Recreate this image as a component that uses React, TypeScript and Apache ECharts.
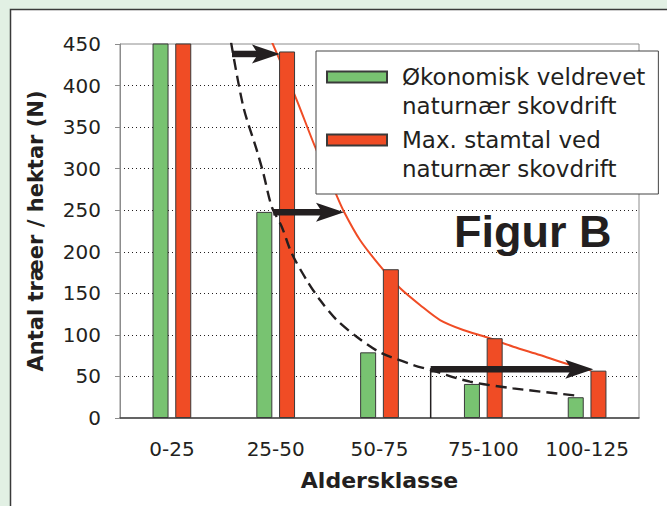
import React, { useEffect, useRef } from "react";
import * as echarts from "echarts";

const categories = ["0-25", "25-50", "50-75", "75-100", "100-125"];
const greenValues = [700, 248, 79, 41, 25];
const redValues = [750, 441, 179, 96, 57];
const seriesNames = [
  "Økonomisk veldrevet\nnaturnær skovdrift",
  "Max. stamtal ved\nnaturnær skovdrift",
];
const yMin = 0;
const yMax = 450;
const yInterval = 50;

// curves in category units (category i centre = i + 0.5)
const dashedCurve = [
  [1.07, 452], [1.188, 374.6], [1.317, 322.5], [1.381, 294.4], [1.462, 254.2],
  [1.558, 230.2], [1.654, 198.2], [1.798, 166], [1.927, 142], [2.088, 117.9],
  [2.28, 97.8], [2.505, 79], [2.826, 63.8], [3.015, 56.9], [3.372, 43.7],
  [3.786, 35.7], [4.432, 26.5],
];
const redCurve = [
  [1.465, 452], [1.696, 384.7], [1.879, 326.4], [2.071, 272.3], [2.158, 248.2],
  [2.312, 214.2], [2.537, 178.1], [2.697, 156.4], [2.89, 136], [3.083, 117.9],
  [3.307, 105.9], [3.533, 97.1], [3.789, 85.8], [4.046, 75.8], [4.271, 66.5],
  [4.54, 57],
];
// [xStart, xEnd, y]
const arrows = [
  [1.079, 1.541, 438],
  [1.477, 2.158, 247.5],
  [2.993, 4.56, 58.6],
];
const bracket = [[2.993, 0], [2.993, 60]];

const TEXT = "#231f20";
const FONT = "DejaVu Sans";
const GREEN = "#78c371";
const RED = "#f04c25";

export default function App() {
  const ref = useRef<HTMLDivElement>(null);
  useEffect(() => {
    if (!ref.current) return;
    const chart = echarts.init(ref.current, null, { renderer: "svg" });
    const iconPath =
      "path://M0,0L0.001,0M0,9L60,9L60,20L0,20ZM0,58L0.001,58";
    const option: any = {
      animation: false,
      backgroundColor: "#e2f0e4",
      graphic: [
        {
          type: "rect",
          z: -1,
          shape: { x: 10.5, y: 9.5, width: 720, height: 560 },
          style: { fill: "#ffffff", stroke: "#3a3a3a", lineWidth: 1.5 },
        },
        {
          type: "text",
          z: 10,
          x: 454,
          y: 231,
          style: {
            text: "Figur B",
            fill: TEXT,
            font: 'bold 45px "Liberation Sans"',
            verticalAlign: "middle",
            align: "left",
          },
        },
      ],
      grid: {
        left: 120,
        right: 28,
        top: 44,
        bottom: 88,
        show: true,
        borderColor: "#8c8c8c",
        borderWidth: 1,
        backgroundColor: "transparent",
      },
      legend: {
        orient: "vertical",
        left: 316,
        top: 51,
        padding: [10.5, 13, 9.5, 10],
        itemGap: 3,
        itemWidth: 60,
        itemHeight: 58,
        backgroundColor: "#ffffff",
        borderColor: "#444444",
        borderWidth: 1,
        borderRadius: 0,
        data: [
          { name: seriesNames[0], icon: iconPath },
          { name: seriesNames[1], icon: iconPath },
        ],
        textStyle: {
          fontFamily: FONT,
          fontSize: 23,
          lineHeight: 29,
          color: TEXT,
          padding: [0, 0, 0, 10],
        },
      },
      xAxis: [
        {
          type: "category",
          data: categories,
          boundaryGap: true,
          axisLine: { lineStyle: { color: "#444444", width: 1.5 } },
          axisTick: { alignWithLabel: true, length: 5, lineStyle: { color: "#444444" } },
          axisLabel: { interval: 0, fontFamily: FONT, fontSize: 20, color: TEXT, margin: 21 },
          splitLine: { show: false },
          name: "Aldersklasse",
          nameLocation: "middle",
          nameGap: 51,
          nameTextStyle: { fontFamily: FONT, fontSize: 22, fontWeight: "bold", color: TEXT },
        },
        {
          type: "value",
          min: 0,
          max: 5,
          show: false,
          splitLine: { show: false },
        },
      ],
      yAxis: {
        type: "value",
        min: yMin,
        max: yMax,
        interval: yInterval,
        axisLine: { show: true, lineStyle: { color: "#8c8c8c", width: 1 } },
        axisTick: { show: true, length: 5, lineStyle: { color: "#8c8c8c" } },
        axisLabel: { fontFamily: FONT, fontSize: 20, color: TEXT, margin: 19 },
        splitLine: {
          show: true,
          showMinLine: false,
          showMaxLine: false,
          lineStyle: { type: [1, 3], color: TEXT, width: 1 },
        },
        name: "Antal træer / hektar (N)",
        nameLocation: "middle",
        nameGap: 74,
        nameTextStyle: { fontFamily: FONT, fontSize: 21, fontWeight: "bold", color: TEXT },
      },
      series: [
        {
          name: seriesNames[0],
          type: "bar",
          data: greenValues,
          barWidth: 16,
          barGap: "42%",
          itemStyle: { color: GREEN, borderColor: "#3a3a3a", borderWidth: 1 },
        },
        {
          name: seriesNames[1],
          type: "bar",
          data: redValues,
          barWidth: 16,
          itemStyle: { color: RED, borderColor: "#3a3a3a", borderWidth: 1 },
        },
        {
          type: "line",
          xAxisIndex: 1,
          data: redCurve,
          smooth: 0.3,
          symbol: "none",
          z: 1,
          lineStyle: { color: RED, width: 2 },
        },
        {
          type: "line",
          xAxisIndex: 1,
          data: dashedCurve,
          smooth: 0.3,
          symbol: "none",
          z: 3,
          lineStyle: { color: TEXT, width: 2.4, type: [11, 6] },
        },
        {
          type: "line",
          xAxisIndex: 1,
          data: bracket,
          symbol: "none",
          z: 3,
          lineStyle: { color: TEXT, width: 1.5 },
        },
        {
          type: "custom",
          xAxisIndex: 1,
          z: 4,
          data: arrows,
          encode: { x: [0, 1], y: 2 },
          renderItem: (_p: any, api: any) => {
            const y = api.value(2);
            const a = api.coord([api.value(0), y]);
            const b = api.coord([api.value(1), y]);
            const L = 28;
            const W = 9.5;
            return {
              type: "group",
              children: [
                {
                  type: "line",
                  shape: { x1: a[0], y1: a[1], x2: b[0] - L * 0.6, y2: b[1] },
                  style: { stroke: TEXT, lineWidth: 6.5 },
                },
                {
                  type: "polygon",
                  shape: {
                    points: [
                      [b[0], b[1]],
                      [b[0] - L, b[1] - W],
                      [b[0] - L * 0.78, b[1]],
                      [b[0] - L, b[1] + W],
                    ],
                  },
                  style: { fill: TEXT },
                },
              ],
            };
          },
        },
      ],
    };
    chart.setOption(option);
    return () => chart.dispose();
  }, []);
  return (
    <div
      ref={ref}
      style={{ position: "fixed", left: 0, top: 0, width: 667, height: 506 }}
    />
  );
}
